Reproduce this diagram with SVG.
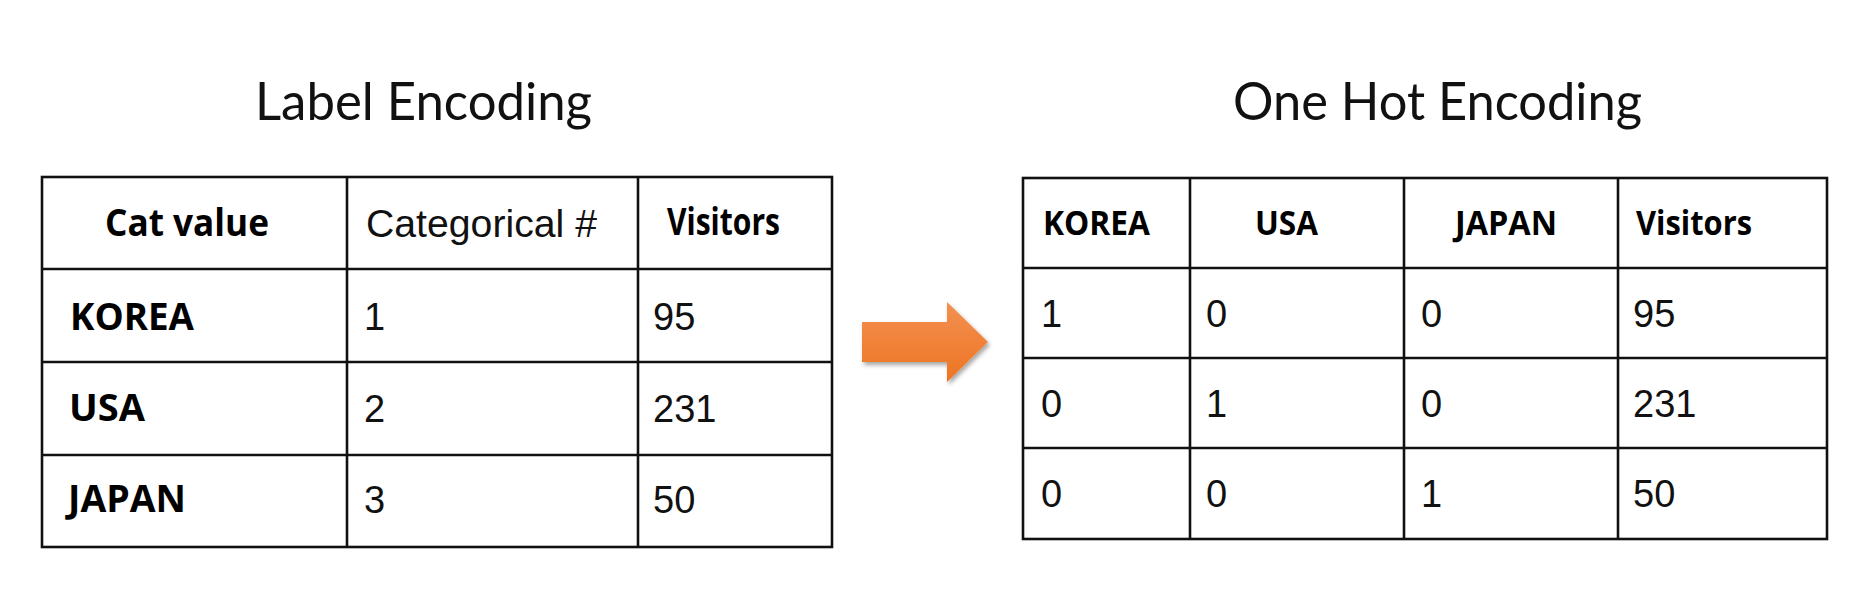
<svg xmlns="http://www.w3.org/2000/svg" width="1876" height="613" viewBox="0 0 1876 613">
<style>
.grid{fill:none;stroke:#111;stroke-width:2.6}
.title{font-family:Lato,"Open Sans",sans-serif;font-size:52px;fill:#111}
.hb{font-family:"Open Sans","Liberation Sans",sans-serif;font-weight:700;fill:#000}
.l{font-size:37px}
.r{font-size:34px}
.num{font-family:"Liberation Sans",Arial,sans-serif;font-size:38px;fill:#111}
</style>
<defs>
<linearGradient id="og" x1="0" y1="0" x2="0" y2="1">
<stop offset="0" stop-color="#F39152"/>
<stop offset="1" stop-color="#EE7422"/>
</linearGradient>
<filter id="sh" x="-20%" y="-20%" width="150%" height="150%">
<feDropShadow dx="2" dy="3" stdDeviation="2" flood-color="#000" flood-opacity="0.35"/>
</filter>
</defs>
<rect width="1876" height="613" fill="#fff"/>

<g id="title-label">
<text class="title" x="255" y="120" textLength="337" lengthAdjust="spacingAndGlyphs">Label Encoding</text>
</g>
<g id="title-onehot">
<text class="title" x="1233" y="120" textLength="409" lengthAdjust="spacingAndGlyphs">One Hot Encoding</text>
</g>

<g id="table-label">
<rect class="grid" x="42" y="177" width="790" height="370"/>
<path class="grid" d="M347 177V547M638 177V547M42 269H832M42 362H832M42 455H832"/>
<text class="hb l" x="105" y="236" textLength="164" lengthAdjust="spacingAndGlyphs">Cat value</text>
<text class="num" x="366" y="237" font-size="39" textLength="231" lengthAdjust="spacingAndGlyphs">Categorical #</text>
<text class="hb l" x="667" y="235" textLength="113" lengthAdjust="spacingAndGlyphs">Visitors</text>
<text class="hb l" x="70" y="330" textLength="124" lengthAdjust="spacingAndGlyphs">KOREA</text>
<text class="hb l" x="69" y="421" textLength="76" lengthAdjust="spacingAndGlyphs">USA</text>
<text class="hb l" x="68" y="512" textLength="118" lengthAdjust="spacingAndGlyphs">JAPAN</text>
<text class="num" x="364" y="330">1</text>
<text class="num" x="364" y="422">2</text>
<text class="num" x="364" y="513">3</text>
<text class="num" x="653" y="330">95</text>
<text class="num" x="653" y="422">231</text>
<text class="num" x="653" y="513">50</text>
</g>

<g id="table-onehot">
<rect class="grid" x="1023" y="178" width="804" height="361"/>
<path class="grid" d="M1190 178V539M1404 178V539M1618 178V539M1023 268H1827M1023 358H1827M1023 448H1827"/>
<text class="hb r" x="1043" y="235" textLength="107" lengthAdjust="spacingAndGlyphs">KOREA</text>
<text class="hb r" x="1255" y="235" textLength="63" lengthAdjust="spacingAndGlyphs">USA</text>
<text class="hb r" x="1455" y="235" textLength="102" lengthAdjust="spacingAndGlyphs">JAPAN</text>
<text class="hb r" x="1636" y="235" textLength="116" lengthAdjust="spacingAndGlyphs">Visitors</text>
<text class="num" x="1041" y="327">1</text>
<text class="num" x="1206" y="327">0</text>
<text class="num" x="1421" y="327">0</text>
<text class="num" x="1633" y="327">95</text>
<text class="num" x="1041" y="417">0</text>
<text class="num" x="1206" y="417">1</text>
<text class="num" x="1421" y="417">0</text>
<text class="num" x="1633" y="417">231</text>
<text class="num" x="1041" y="507">0</text>
<text class="num" x="1206" y="507">0</text>
<text class="num" x="1421" y="507">1</text>
<text class="num" x="1633" y="507">50</text>
</g>

<g id="connectors">
<polygon points="862,322 947,322 947,302 988,342 947,382 947,362 862,362" fill="url(#og)" filter="url(#sh)"/>
</g>
</svg>
